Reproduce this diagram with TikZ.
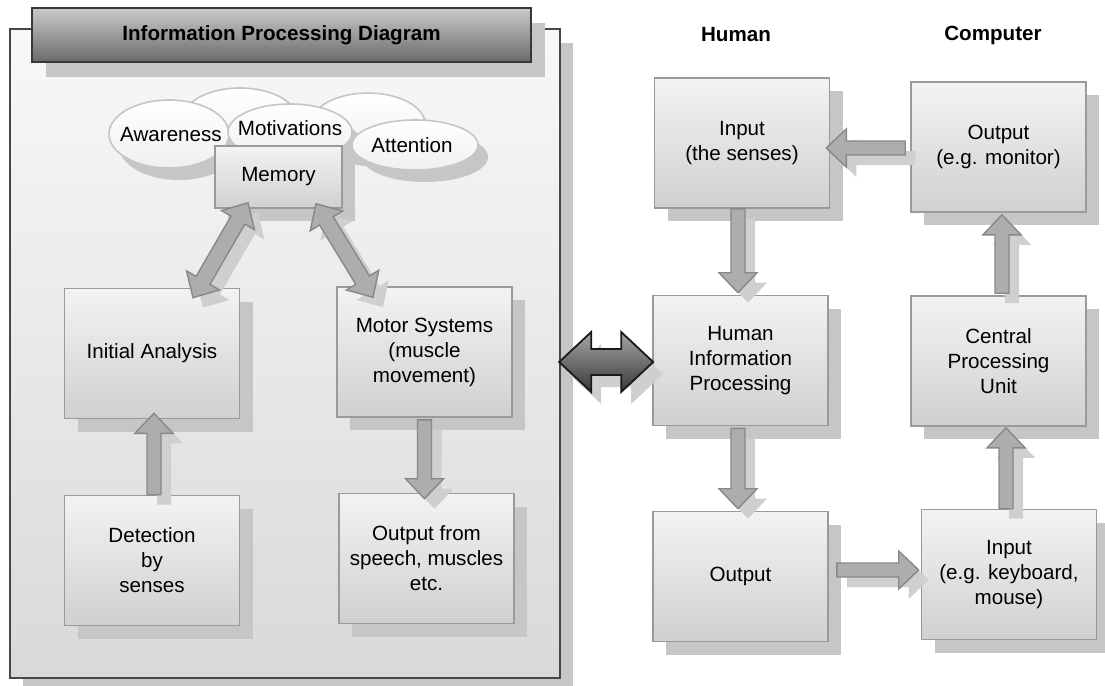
\documentclass[tikz,border=0pt]{standalone}
\usepackage{fontspec}
\setmainfont{Liberation Sans}
\usetikzlibrary{calc,shadows,shapes.geometric}
\definecolor{boxline}{HTML}{9A9A9A}
\definecolor{boxtop}{HTML}{F3F3F3}
\definecolor{boxbot}{HTML}{D0D0D0}
\definecolor{shade}{HTML}{C6C6C6}
\definecolor{arrowfill}{HTML}{ADADAD}
\definecolor{arrowline}{HTML}{888888}
\definecolor{paneltop}{HTML}{F8F8F8}
\definecolor{panelbot}{HTML}{D9D9D9}
\definecolor{titletop}{HTML}{CACACA}
\definecolor{titlebot}{HTML}{6A6A6A}
\newcommand{\fatarrow}[2]{%
  \path[fatarrow] let \p1=(#1), \p2=(#2), \p3=($(\p2)!10pt!(\p1)$) in
    ($(\p1)!3.5pt!90:(\p2)$) -- ($(\p3)!3.5pt!90:(\p2)$) -- ($(\p3)!9.5pt!90:(\p2)$)
    -- (\p2) -- ($(\p3)!9.5pt!-90:(\p2)$) -- ($(\p3)!3.5pt!-90:(\p2)$)
    -- ($(\p1)!3.5pt!-90:(\p2)$) -- cycle;}
\newcommand{\twinarrow}[6]{%
  \path[#1] let \p1=(#2), \p2=(#3), \p3=($(\p2)!#6!(\p1)$), \p4=($(\p1)!#6!(\p2)$) in
    (\p1) -- ($(\p4)!#5!90:(\p2)$) -- ($(\p4)!#4!90:(\p2)$) -- ($(\p3)!#4!90:(\p2)$)
    -- ($(\p3)!#5!90:(\p2)$) -- (\p2) -- ($(\p3)!#5!-90:(\p2)$) -- ($(\p3)!#4!-90:(\p2)$)
    -- ($(\p4)!#4!-90:(\p2)$) -- ($(\p4)!#5!-90:(\p2)$) -- cycle;}
\tikzset{
  box/.style={draw=boxline, line width=0.8pt, top color=boxtop, bottom color=boxbot,
    minimum width=87.5pt, minimum height=65pt, align=center, inner sep=2pt,
    general shadow={fill=shade, shadow xshift=6.5pt, shadow yshift=-6.5pt}},
  cloud/.style={ellipse, draw=shade, line width=0.8pt, top color=white, bottom color=black!6,
    inner sep=0pt, general shadow={fill=shade, shadow xshift=5pt, shadow yshift=-6pt}},
  fatarrow/.style={fill=arrowfill, draw=arrowline, line width=0.7pt,
    general shadow={fill=black!19, shadow xshift=5pt, shadow yshift=-5pt}},
  bigarrow/.style={top color=black!35, bottom color=black!78, draw=black!90, line width=0.9pt,
    general shadow={fill=black!19, shadow xshift=5pt, shadow yshift=-6pt}},
}
\begin{document}
\begin{tikzpicture}[x=0.5pt, y=-0.5pt, font=\fontsize{10.3}{12.5}\selectfont]
\useasboundingbox (0,0) rectangle (1105,686);
\node[draw=black!72, line width=1.2pt, top color=paneltop, bottom color=panelbot,
  minimum width=275pt, minimum height=324.5pt,
  general shadow={fill=shade, shadow xshift=6.5pt, shadow yshift=-7pt}] (panel) at (285,353.5) {};
\node[draw=black!78, line width=1.2pt, top color=titletop, bottom color=titlebot,
  minimum width=249.5pt, minimum height=27pt, font=\fontsize{10.3}{12.5}\selectfont\bfseries,
  general shadow={fill=shade, shadow xshift=7pt, shadow yshift=-7.5pt}] (title) at (281.5,35) {Information Processing Diagram};

\node[cloud, minimum width=58pt, minimum height=32pt] (backl) at (240,120) {};
\node[cloud, minimum width=57pt, minimum height=31pt] (backr) at (368,124) {};
\node[cloud, minimum width=60pt, minimum height=34pt] (aware) at (169,134) {};
\node[cloud, minimum width=62pt, minimum height=28pt] (motiv) at (290,132) {};
\node[cloud, minimum width=63pt, minimum height=25pt] (atten) at (415,145) {};
\node (awaretext) at (171,135) {Awareness};
\node (motivtext) at (290,128) {Motivations};
\node (attentext) at (412,145) {Attention};
\node[box, minimum width=63.5pt, minimum height=31pt] (memory) at (278.5,177) {Memory};

\node[box] (initial) at (152,353.5) {Initial Analysis};
\node[box] (motor) at (424.5,352) {Motor Systems\\(muscle\\movement)};
\node[box] (detect) at (152,560.5) {Detection\\by\\senses};
\node[box] (speech) at (426.5,558.5) {Output from\\speech, muscles\\etc.};

\node[font=\fontsize{10.3}{12.5}\selectfont\bfseries] (human) at (736,35) {Human};
\node[font=\fontsize{10.3}{12.5}\selectfont\bfseries] (computer) at (993,35) {Computer};
\node[box] (senses) at (742,143) {Input\\(the senses)};
\node[box] (monitor) at (998.5,147) {Output\\(e.g. monitor)};
\node[box] (hip) at (740.5,360.5) {Human\\Information\\Processing};
\node[box] (cpu) at (998.5,361) {Central\\Processing\\Unit};
\node[box] (output) at (740.5,576.5) {Output};
\node[box] (keyboard) at (1009,574.5) {Input\\(e.g. keyboard,\\mouse)};

\twinarrow{fatarrow}{$(memory.south)+(-30.5,-6)$}{$(initial.north)+(41,10)$}{4pt}{9.5pt}{10pt}
\twinarrow{fatarrow}{$(memory.south)+(37.5,-5)$}{$(motor.north)+(-51.5,11)$}{4pt}{9.5pt}{10pt}
\fatarrow{$(detect.north)+(2,0)$}{$(initial.south)+(2,-6)$}
\fatarrow{$(motor.south)+(0,2)$}{$(speech.north)+(-2,6)$}
\twinarrow{bigarrow}{$(panel.east |- hip.west)+(-2,1.5)$}{$(hip.west)+(1,1.5)$}{6.5pt}{15pt}{16pt}
\fatarrow{$(monitor.west)+(-5,1)$}{$(senses.east)+(-4,5)$}
\fatarrow{$(senses.south)+(-4,0)$}{$(hip.north)+(-2.5,-2)$}
\fatarrow{$(hip.south)+(-2.5,2)$}{$(output.north)+(-2.5,-2)$}
\fatarrow{$(output.east)+(8,-6.5)$}{$(keyboard.west)+(-2,-4.5)$}
\fatarrow{$(keyboard.north)+(-3,0)$}{$(cpu.south)+(7.5,1)$}
\fatarrow{$(cpu.north)+(3.5,-2)$}{$(monitor.south)+(3.5,2)$}
\end{tikzpicture}
\end{document}
